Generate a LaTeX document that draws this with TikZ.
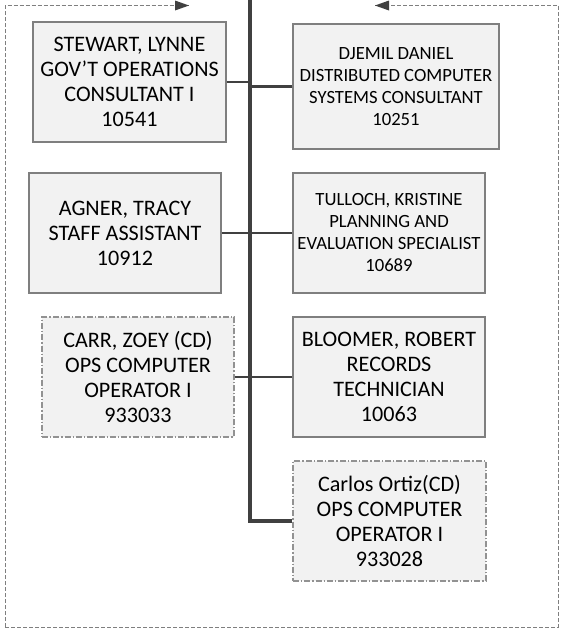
\documentclass[tikz,border=0pt]{standalone}
\usepackage{fontspec}
\setmainfont{Carlito}
\usepackage{xcolor}
\definecolor{boxfill}{HTML}{F2F2F2}
\definecolor{boxline}{HTML}{7F7F7F}
\definecolor{linkgray}{HTML}{404040}

\begin{document}
\begin{tikzpicture}[x=0.75pt,y=-0.75pt,
    person/.style={draw=boxline,line width=1pt,fill=boxfill,align=center,inner sep=0pt,
      minimum width=144pt,minimum height=90pt,font=\fontsize{16.6}{18.75}\selectfont},
    smalltext/.style={font=\fontsize{14}{16.5}\selectfont},
    contract/.style={draw=boxline!85,dash pattern=on 4.5pt off 1.5pt on 1pt off 1.5pt},
    link/.style={draw=linkgray,line width=1.8pt},
    trunk/.style={draw=linkgray,line width=2.6pt},
    frame/.style={draw=boxline,line width=0.75pt,dash pattern=on 3pt off 1.5pt}]
    \useasboundingbox (0,0) rectangle (561,629);
    % dashed frame with its two arrows at the top
    \coordinate (fbl) at (5,627);
    \coordinate (ftr) at (558,5.5);
    \coordinate (arrL) at (189,5.5);
    \coordinate (arrR) at (375,5.5);
    \draw[frame] (fbl) |- (arrL);
    \draw[frame] (fbl) -| (ftr) -- (arrR);
    \fill[linkgray] (arrL) -- ++(-14,-5) -- ++(0,10) -- cycle;
    \fill[linkgray] (arrR) -- ++(14,-5) -- ++(0,10) -- cycle;
    % the staff
    \node[person,minimum width=144.75pt] (stewart) at (129.5,82) {STEWART, LYNNE\\GOV’T OPERATIONS\\CONSULTANT I\\10541};
    \node[person,smalltext,minimum width=154.5pt,minimum height=93.75pt] (djemil) at (396,86.5) {DJEMIL DANIEL\\DISTRIBUTED COMPUTER\\SYSTEMS CONSULTANT\\10251};
    \node[person] (agner) at (125,233) {AGNER, TRACY\\STAFF ASSISTANT\\10912};
    \node[person,smalltext] (tulloch) at (389,233) {TULLOCH, KRISTINE\\PLANNING AND\\EVALUATION SPECIALIST\\10689};
    \node[person,contract] (carr) at (138,377) {CARR, ZOEY (CD)\\OPS COMPUTER\\OPERATOR I\\933033};
    \node[person] (bloomer) at (389,377) {BLOOMER, ROBERT\\RECORDS\\TECHNICIAN\\10063};
    \node[person,contract,minimum width=144.75pt] (carlos) at (389.5,521) {Carlos Ortiz(CD)\\OPS COMPUTER\\OPERATOR I\\933028};
    % connectors
    \coordinate (top) at (250,0);
    \draw[trunk] (top) |- (carlos.west);
    \draw[link] (stewart.east) -- (stewart.east -| top);
    \draw[link] (djemil.west) -- (djemil.west -| top);
    \draw[link] (agner.east) -- (agner.east -| top);
    \draw[link] (tulloch.west) -- (tulloch.west -| top);
    \draw[link] (carr.east) -- (carr.east -| top);
    \draw[link] (bloomer.west) -- (bloomer.west -| top);
\end{tikzpicture}
\end{document}
